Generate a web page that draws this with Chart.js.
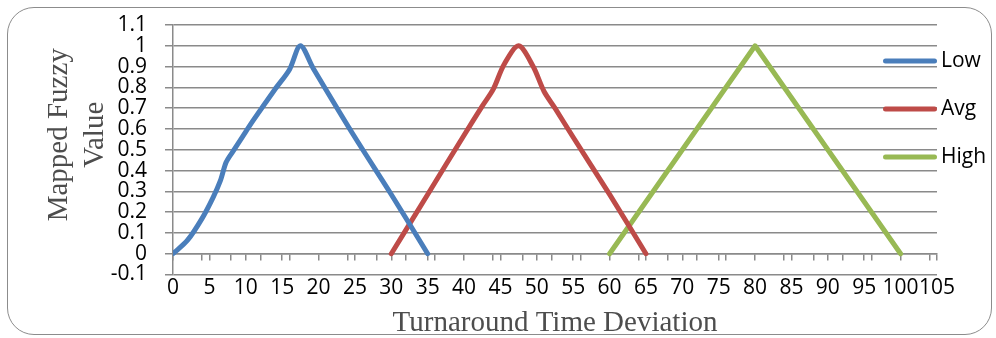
<!DOCTYPE html>
<html>
<head>
<meta charset="utf-8">
<title>Mapped Fuzzy Value</title>
<script src="https://cdn.jsdelivr.net/npm/chart.js@4.4.0/dist/chart.umd.min.js"></script>
<style>
    html, body { margin: 0; padding: 0; background: #fff; }
    .chart-box { position: relative; width: 996px; height: 338px; }
    .chart-frame { position: absolute; left: 7px; top: 7px; width: 983px; height: 326px; border: 1.5px solid #8c8c8c; border-radius: 27px; pointer-events: none; }
</style>
</head>
<body>
<div class="chart-box">
    <canvas id="fuzzyChart" width="996" height="338"></canvas>
    <div class="chart-frame"></div>
</div>
<script>
// membership functions
var seriesNames = ['Low', 'Avg', 'High'];
var seriesColors = ['#4a7ebb', '#be4b48', '#98b954'];

var lowX = [0, 2, 4, 5.5, 6.5, 7.3, 8.2, 9.5, 11, 14, 16, 17.5, 19.3, 25, 30, 35];
var lowY = [0, 0.065, 0.17, 0.27, 0.35, 0.44, 0.49, 0.56, 0.64, 0.79, 0.885, 1, 0.89, 0.56, 0.285, 0];

var avgX = [30, 35, 40, 42.5, 44, 45.5, 47.5, 49.5, 51, 52.5, 55, 60, 65];
var avgY = [0, 0.285, 0.57, 0.71, 0.79, 0.91, 1, 0.9, 0.78, 0.7, 0.56, 0.285, 0];

var highX = [60, 80, 100];
var highY = [0, 1, 0];

var xTicks = [0, 5, 10, 15, 20, 25, 30, 35, 40, 45, 50, 55, 60, 65, 70, 75, 80, 85, 90, 95, 100, 105];
var xMinorTicks = [4, 8, 12, 16, 24, 28, 32, 36, 44, 48, 52, 56, 64, 68, 72, 76, 84, 88, 92, 96, 104];
var yTicks = [-0.1, 0, 0.1, 0.2, 0.3, 0.4, 0.5, 0.6, 0.7, 0.8, 0.9, 1, 1.1];

var xTitle = 'Turnaround Time Deviation';
var yTitle = ['Mapped Fuzzy', 'Value'];

var gridColor = '#8a8a8a';
var labelFont = { family: 'Open Sans', size: 21 };

function toPoints(xs, ys) {
    var pts = [];
    for (var i = 0; i < xs.length; i++) {
        pts.push({ x: xs[i], y: ys[i] });
    }
    return pts;
}

function makeDataset(i, xs, ys, tension) {
    return {
        label: seriesNames[i],
        data: toPoints(xs, ys),
        borderColor: seriesColors[i],
        backgroundColor: seriesColors[i],
        borderWidth: 5,
        borderCapStyle: 'round',
        borderJoinStyle: 'round',
        pointRadius: 0,
        tension: tension
    };
}

// legend drawn on the right, partly over the plot edge
var sideLegend = {
    id: 'sideLegend',
    afterDraw: function (chart) {
        var ctx = chart.ctx;
        var area = chart.chartArea;
        ctx.save();
        ctx.font = '21px "Open Sans"';
        ctx.textAlign = 'left';
        ctx.textBaseline = 'middle';
        chart.data.datasets.forEach(function (ds, i) {
            var y = area.top + 36 + i * 48;
            ctx.strokeStyle = ds.borderColor;
            ctx.lineWidth = 5;
            ctx.lineCap = 'round';
            ctx.beginPath();
            ctx.moveTo(area.right - 51.5, y);
            ctx.lineTo(area.right - 2.5, y);
            ctx.stroke();
            ctx.fillStyle = '#000';
            ctx.fillText(ds.label, area.right + 4, y);
        });
        ctx.restore();
    }
};

// two-line rotated title for the value axis
var yAxisTitle = {
    id: 'yAxisTitle',
    afterDraw: function (chart) {
        var ctx = chart.ctx;
        var area = chart.chartArea;
        ctx.save();
        ctx.translate(59, (area.top + area.bottom) / 2 - 15);
        ctx.rotate(-Math.PI / 2);
        ctx.font = '29px "Liberation Serif"';
        ctx.fillStyle = '#4d4d4d';
        ctx.textAlign = 'center';
        ctx.textBaseline = 'middle';
        for (var i = 0; i < yTitle.length; i++) {
            ctx.fillText(yTitle[i], 0, i * 36);
        }
        ctx.restore();
    }
};

new Chart(document.getElementById("fuzzyChart").getContext('2d'), {
    type: 'line',
    data: {
        datasets: [
            makeDataset(0, lowX, lowY, 0.3),
            makeDataset(1, avgX, avgY, 0.3),
            makeDataset(2, highX, highY, 0)
        ]
    },
    options: {
        responsive: false,
        animation: false,
        devicePixelRatio: 1,
        layout: {
            padding: { left: 0, top: 25, right: 59, bottom: 0 }
        },
        plugins: {
            legend: { display: false },
            tooltip: { enabled: false }
        },
        scales: {
            x: {
                type: 'linear',
                min: 0,
                max: 105,
                afterBuildTicks: function (axis) {
                    axis.ticks = xTicks.map(function (v) { return { value: v }; });
                },
                afterFit: function (scale) {
                    scale.height = 63.5;
                },
                grid: { display: false, drawTicks: false },
                border: { display: false },
                ticks: {
                    font: labelFont,
                    color: '#000',
                    padding: 1,
                    autoSkip: false,
                    maxRotation: 0
                },
                title: {
                    display: true,
                    text: xTitle,
                    color: '#4d4d4d',
                    font: { family: 'Liberation Serif', size: 29, lineHeight: 1 },
                    padding: { top: 0, bottom: 0.5 }
                }
            },
            // axis line crossing at zero, with its tick marks
            xAxisLine: {
                type: 'linear',
                axis: 'x',
                position: { y: 0 },
                min: 0,
                max: 105,
                afterBuildTicks: function (axis) {
                    axis.ticks = xTicks.concat(xMinorTicks).map(function (v) { return { value: v }; });
                },
                grid: {
                    drawOnChartArea: false,
                    tickLength: 6,
                    color: gridColor,
                    lineWidth: 1.5
                },
                border: { color: gridColor, width: 1.5 },
                ticks: { display: false, autoSkip: false }
            },
            y: {
                min: -0.1,
                max: 1.1,
                afterBuildTicks: function (axis) {
                    axis.ticks = yTicks.map(function (v) { return { value: v }; });
                },
                afterFit: function (scale) {
                    scale.width = 173;
                    scale.paddingTop = 12;
                    scale.paddingBottom = 12;
                },
                grid: {
                    color: gridColor,
                    lineWidth: 1.5,
                    tickLength: 8
                },
                border: { color: gridColor, width: 1.5 },
                ticks: {
                    font: labelFont,
                    color: '#000',
                    padding: 18,
                    autoSkip: false,
                    callback: function (value) {
                        return String(Math.round(value * 10) / 10);
                    }
                }
            }
        }
    },
    plugins: [sideLegend, yAxisTitle]
});
</script>
</body>
</html>
